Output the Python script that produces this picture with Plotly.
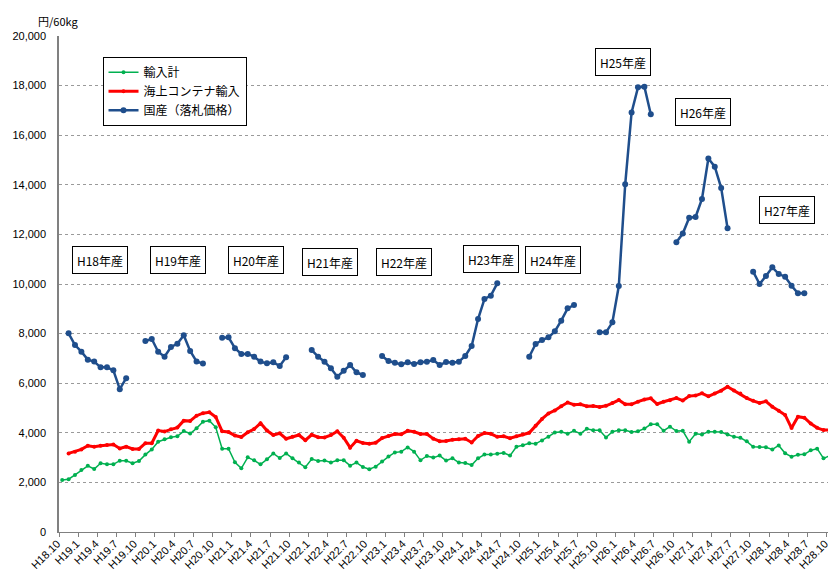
import plotly.graph_objects as go

# Month categories H18.10 ... H28.11
months = [f"H18.{m}" for m in (10, 11, 12)] + [f"H{y}.{m}" for y in range(19, 29) for m in range(1, 13)]
months = months[:122]
tick_labels = months[0:121:3]

import_total = [2100, 2130, 2300, 2500, 2670, 2540, 2770, 2730, 2730, 2875, 2875, 2770, 2860, 3120, 3330,
                3640, 3740, 3820, 3860, 4070, 3970, 4180, 4450, 4490, 4220, 3360, 3360, 2810, 2570, 3010,
                2890, 2730, 2930, 3170, 2980, 3170, 2970, 2800, 2610, 2940, 2860, 2880, 2800, 2890, 2890,
                2675, 2800, 2620, 2530, 2635, 2840, 3040, 3210, 3240, 3410, 3240, 2890, 3065, 3000, 3080,
                2880, 2970, 2800, 2780, 2700, 2970, 3120, 3120, 3160, 3190, 3080, 3440, 3500, 3580, 3555,
                3690, 3844, 4010, 4040, 3965, 4080, 3965, 4160, 4105, 4100, 3810, 4040, 4100, 4100, 4032,
                4060, 4170, 4342, 4342, 4085, 4247, 4072, 4080, 3641, 3958, 3930, 4045, 4040, 4032, 3930,
                3837, 3800, 3656, 3433, 3427, 3420, 3330, 3490, 3172, 3038, 3118, 3132, 3293, 3360, 2971,
                3078, 3024]

container = [None, 3170, 3240, 3330, 3480, 3440, 3480, 3510, 3530, 3370, 3440, 3350, 3350, 3580, 3580,
             4090, 4050, 4140, 4210, 4490, 4480, 4690, 4790, 4830, 4640, 4060, 4030, 3890, 3830, 4020,
             4150, 4390, 4090, 3910, 3980, 3760, 3840, 3910, 3700, 3920, 3820, 3810, 3910, 4060, 3800,
             3400, 3680, 3590, 3560, 3600, 3790, 3870, 3950, 3940, 4080, 4040, 3950, 3950, 3760, 3660,
             3670, 3720, 3740, 3760, 3610, 3870, 3990, 3960, 3840, 3860, 3780, 3860, 3930, 4000, 4280,
             4560, 4780, 4900, 5070, 5220, 5130, 5150, 5070, 5080, 5040, 5090, 5200, 5320, 5150, 5150,
             5255, 5340, 5390, 5160, 5250, 5310, 5400, 5300, 5480, 5500, 5590, 5470, 5580, 5700, 5860,
             5710, 5580, 5400, 5290, 5200, 5270, 5050, 4890, 4720, 4190, 4650, 4610, 4370, 4200, 4110,
             4120, 4210]

N = None
domestic = [N, 8010, 7540, 7270, 6950, 6870, 6640, 6640, 6520, 5760, 6200, N, N,
            7700, 7780, 7270, 7070, 7460, 7590, 7930, 7298, 6880, 6790, N, N,
            7830, 7850, 7410, 7180, 7180, 7070, 6870, 6800, 6840, 6694, 7043, N, N, N,
            7338, 7069, 6868, 6600, 6263, 6505, 6733, 6438, 6330, N, N,
            7096, 6894, 6827, 6760, 6841, 6774, 6841, 6868, 6935, 6733,
            6854, 6827, 6868, 7096, 7499, 8588, 9395, 9529, 10026, N, N, N, N,
            7069, 7580, 7741, 7849, 8091, 8521, 9018, 9153, N, N, N,
            8051, 8051, 8454, 9919, 14018, 16915, 17929, 17956, 16841, N, N, N,
            11680, 12035, 12674, 12700, 13430, 15060, 14730, 13876, 12250, N, N, N,
            10496, 10000, 10322, 10671, 10402, 10295, 9932, 9623, 9623, N, N, N, N]

series_names = ["輸入計", "海上コンテナ輸入", "国産（落札価格）"]

crop_labels = ["H18年産", "H19年産", "H20年産", "H21年産", "H22年産", "H23年産", "H24年産", "H25年産", "H26年産", "H27年産"]
crop_label_x = [5.94, 18.17, 30.26, 41.8, 53.4, 67.0, 76.66, 87.6, 100.16, 113.24]
crop_label_y = [10970, 10970, 10970, 10900, 10900, 11000, 10950, 18970, 16950, 13000]

font_family = "Liberation Sans, Arial, Noto Sans CJK JP"

fig = go.Figure()
fig.add_trace(go.Scatter(x=months, y=import_total, name=series_names[0], mode="lines+markers",
                         line=dict(color="#00B050", width=1.5), marker=dict(size=4, color="#00B050")))
fig.add_trace(go.Scatter(x=months, y=container, name=series_names[1], mode="lines+markers",
                         line=dict(color="#FF0000", width=3), marker=dict(size=4, color="#FF0000")))
fig.add_trace(go.Scatter(x=months, y=domestic, name=series_names[2], mode="lines+markers",
                         line=dict(color="#1F4E8C", width=2.5), marker=dict(size=6, color="#1F4E8C")))

annotations = []
for t, ax, ay in zip(crop_labels, crop_label_x, crop_label_y):
    annotations.append(dict(x=ax, y=ay, xref="x", yref="y", text=t, showarrow=False,
                            font=dict(size=12, color="black", family="Noto Sans CJK JP"),
                            bordercolor="black", borderwidth=1, bgcolor="white",
                            width=54, height=26, borderpad=0))
annotations.append(dict(x=-0.029, y=1.03, xref="paper", yref="paper", xanchor="left", yanchor="middle",
                        text="円/60kg", showarrow=False,
                        font=dict(size=11, color="black", family="Noto Sans CJK JP")))

# The page body has an 8px margin; size the figure so the plot area lands where the reference has it.
fig.update_layout(
    width=828, height=566,
    margin=dict(l=51, r=0, t=28, b=42, autoexpand=False),
    paper_bgcolor="white", plot_bgcolor="white",
    font=dict(family=font_family, size=12, color="black"),
    showlegend=True,
    legend=dict(x=0.056, y=0.958, xanchor="left", yanchor="top",
                bordercolor="black", borderwidth=1, bgcolor="white",
                font=dict(size=12, family="Noto Sans CJK JP", color="black"),
                itemwidth=30, tracegroupgap=2),
    annotations=annotations,
    xaxis=dict(type="category", categoryorder="array", categoryarray=months,
               range=[-0.5, 120.95], tickmode="array", tickvals=tick_labels, ticktext=tick_labels,
               tickangle=-45, ticks="outside", tickson="boundaries", ticklen=4, tickcolor="#808080",
               ticklabelshift=-5,
               showgrid=False, showline=True, linecolor="#808080", linewidth=1, zeroline=False,
               tickfont=dict(size=11, family=font_family), automargin=False),
    yaxis=dict(range=[0, 20000], dtick=2000, tickformat=",", showgrid=True,
               gridcolor="#9A9A9A", griddash="dot", gridwidth=1,
               showline=True, linecolor="#808080", linewidth=1.5, zeroline=False,
               ticks="", ticklabelstandoff=9, tickfont=dict(size=11, family=font_family),
               automargin=False),
)

fig.write_html("out.html")
